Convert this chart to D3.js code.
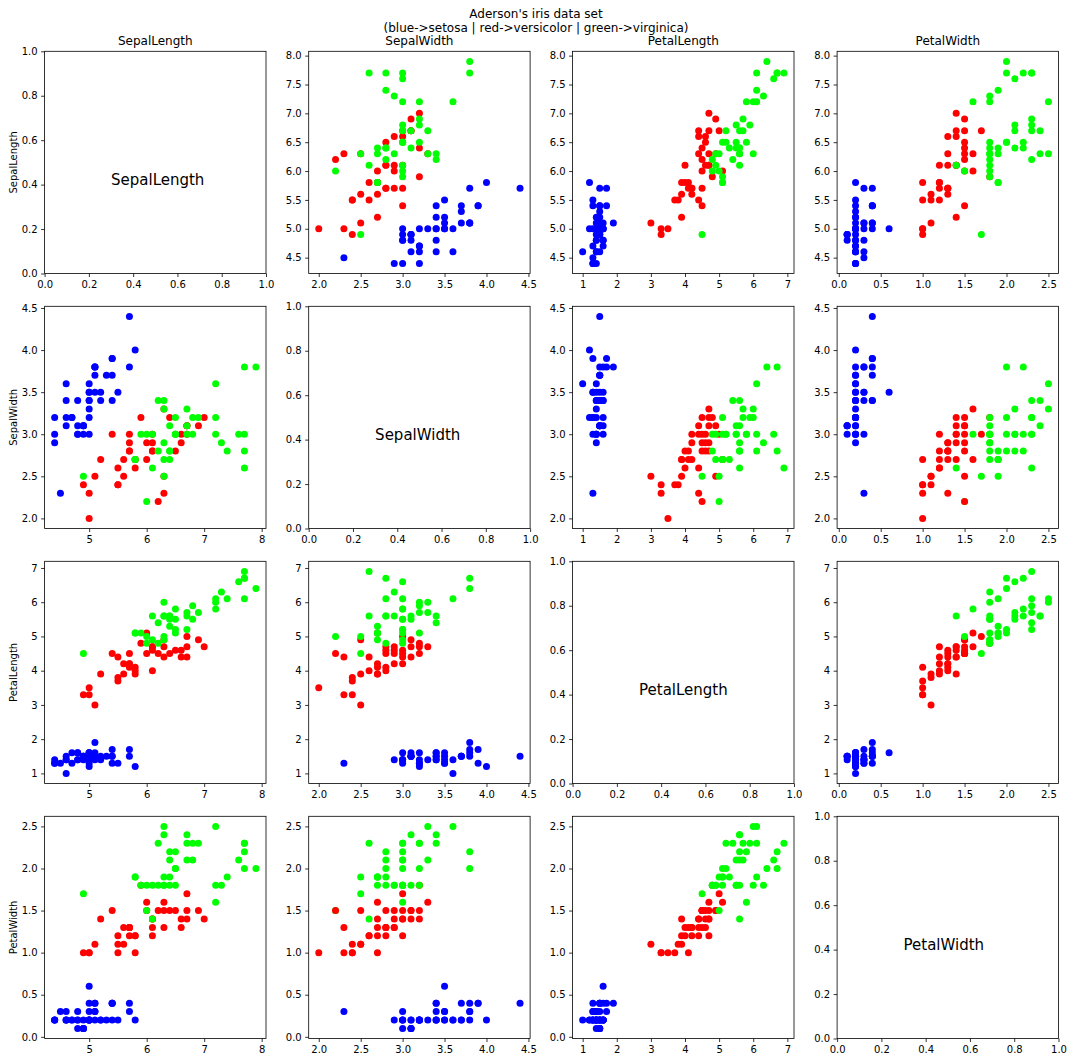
<!DOCTYPE html>
<html><head><meta charset="utf-8">
<script src="https://cdn.jsdelivr.net/npm/d3@7"></script>
<style>
body{margin:0;background:#fff}
text{font-family:"DejaVu Sans",sans-serif}
</style>
</head><body>
<svg id="chart" width="1072" height="1062"></svg>
<script>
// ---------- data ----------
const features = ["SepalLength", "SepalWidth", "PetalLength", "PetalWidth"];
const speciesNames = ["setosa", "versicolor", "virginica"];
const titleLines = ["Aderson's iris data set", "(blue->setosa | red->versicolor | green->virginica)"];

// rows in drawing order (setosa, versicolor, virginica, then one versicolor drawn last)
const sepalLength = [
 4.9,4.7,4.6,5.0,5.4,4.6,5.0,4.4,4.9,5.4,4.8,4.8,5.8,5.7,5.4,5.1,5.7,5.1,5.1,4.6,5.0,5.0,5.2,5.2,4.7,4.8,5.4,4.9,5.0,5.5,4.9,4.4,5.0,4.5,4.4,5.0,5.1,4.8,5.1,4.6,5.3,5.0,
 7.0,6.4,6.9,6.5,5.7,6.3,4.9,6.6,5.2,5.0,6.1,6.7,5.8,5.6,5.9,6.1,6.3,6.1,6.6,6.7,6.0,5.5,5.5,5.8,6.0,5.4,6.7,6.3,5.5,6.1,5.8,5.0,5.6,5.7,5.7,5.1,5.7,
 6.3,5.8,6.3,6.5,7.6,4.9,7.3,7.2,6.5,6.4,6.8,6.5,7.7,7.7,6.0,6.9,7.7,6.3,6.7,7.2,6.2,6.1,6.4,7.2,7.4,7.9,6.4,6.1,7.7,6.3,6.4,6.0,6.7,5.8,6.8,6.7,6.3,6.5,6.2,5.9,
 6.2
];
const sepalWidth = [
 3.0,3.2,3.1,3.6,3.9,3.4,3.4,2.9,3.1,3.7,3.4,3.0,4.0,4.4,3.9,3.5,3.8,3.8,3.7,3.6,3.0,3.4,3.5,3.4,3.2,3.1,3.4,3.1,3.2,3.5,3.1,3.0,3.5,2.3,3.2,3.5,3.8,3.0,3.8,3.2,3.7,3.3,
 3.2,3.2,3.1,2.8,2.8,3.3,2.4,2.9,2.7,2.0,2.9,3.1,2.7,2.5,3.2,2.8,2.5,2.8,3.0,3.0,2.9,2.4,2.4,2.7,2.7,3.0,3.1,2.3,2.6,3.0,2.6,2.3,2.7,3.0,2.9,2.5,2.8,
 3.3,2.7,2.9,3.0,3.0,2.5,2.9,3.6,3.2,2.7,3.0,3.0,3.8,2.6,2.2,3.2,2.8,2.7,3.3,3.2,2.8,3.0,2.8,3.0,2.8,3.8,2.8,2.6,3.0,3.4,3.1,3.0,3.1,2.7,3.2,3.0,2.5,3.0,3.4,3.0,
 2.2
];
const petalLength = [
 1.4,1.3,1.5,1.4,1.7,1.4,1.5,1.4,1.5,1.5,1.6,1.4,1.2,1.5,1.3,1.4,1.7,1.5,1.5,1.0,1.6,1.6,1.5,1.4,1.6,1.6,1.5,1.5,1.2,1.3,1.5,1.3,1.3,1.3,1.3,1.6,1.9,1.4,1.6,1.4,1.5,1.4,
 4.7,4.5,4.9,4.6,4.5,4.7,3.3,4.6,3.9,3.5,4.7,4.4,4.1,3.9,4.8,4.0,4.9,4.7,4.4,5.0,4.5,3.8,3.7,3.9,5.1,4.5,4.7,4.4,4.4,4.6,4.0,3.3,4.2,4.2,4.2,3.0,4.1,
 6.0,5.1,5.6,5.8,6.6,4.5,6.3,6.1,5.1,5.3,5.5,5.5,6.7,6.9,5.0,5.7,6.7,4.9,5.7,6.0,4.8,4.9,5.6,5.8,6.1,6.4,5.6,5.6,6.1,5.6,5.5,4.8,5.6,5.1,5.9,5.2,5.0,5.2,5.4,5.1,
 4.5
];
const petalWidth = [
 0.2,0.2,0.2,0.2,0.4,0.3,0.2,0.2,0.1,0.2,0.2,0.1,0.2,0.4,0.4,0.3,0.3,0.3,0.4,0.2,0.2,0.4,0.2,0.2,0.2,0.2,0.4,0.1,0.2,0.2,0.1,0.2,0.3,0.3,0.2,0.6,0.4,0.3,0.2,0.2,0.2,0.2,
 1.4,1.5,1.5,1.5,1.3,1.6,1.0,1.3,1.4,1.0,1.4,1.4,1.0,1.1,1.8,1.3,1.5,1.2,1.4,1.7,1.5,1.1,1.0,1.2,1.6,1.5,1.5,1.3,1.2,1.4,1.2,1.0,1.3,1.2,1.3,1.1,1.3,
 2.5,1.9,1.8,2.2,2.1,1.7,1.8,2.5,2.0,1.9,2.1,1.8,2.2,2.3,1.5,2.3,2.0,1.8,2.1,1.8,1.8,1.8,2.1,1.6,1.9,2.0,2.2,1.4,2.3,2.4,1.8,1.8,2.4,1.9,2.3,2.3,1.9,2.0,2.3,1.8,
 1.5
];
const species = [].concat(
  Array(42).fill(0), Array(37).fill(1), Array(40).fill(2), [1]
);

// tick labels
const sepalLengthXTicks = [5, 6, 7, 8];
const sepalLengthYTicks = [4.5, 5.0, 5.5, 6.0, 6.5, 7.0, 7.5, 8.0];
const sepalWidthTicks = [2.0, 2.5, 3.0, 3.5, 4.0, 4.5];
const petalLengthTicks = [1, 2, 3, 4, 5, 6, 7];
const petalWidthTicks = [0.0, 0.5, 1.0, 1.5, 2.0, 2.5];
const diagonalTicks = [0.0, 0.2, 0.4, 0.6, 0.8, 1.0];

// ---------- setup ----------
const colorOf = ["#0000ff", "#ff0000", "#00ff00"];
const values = [sepalLength, sepalWidth, petalLength, petalWidth];
const xTickSets = [sepalLengthXTicks, sepalWidthTicks, petalLengthTicks, petalWidthTicks];
const yTickSets = [sepalLengthYTicks, sepalWidthTicks, petalLengthTicks, petalWidthTicks];
const xFormats = [d3.format("d"), d3.format(".1f"), d3.format("d"), d3.format(".1f")];
const yFormats = [d3.format(".1f"), d3.format(".1f"), d3.format("d"), d3.format(".1f")];

const colX = [44.6, 308.7, 572.6, 837.1];
const rowY = [51.3, 306.3, 561.3, 816.3];
const W = 221.4, H = 222.2;

const domains = values.map(v => {
  const e = d3.extent(v); const p = (e[1] - e[0]) * 0.05;
  return [e[0] - p, e[1] + p];
});

const rows = sepalLength.map((_, i) => ({
  v: [sepalLength[i], sepalWidth[i], petalLength[i], petalWidth[i]],
  s: species[i]
}));

const svg = d3.select("#chart");
svg.append("rect").attr("width", 1072).attr("height", 1062).attr("fill", "#fff");

// suptitle
svg.append("text").attr("x", 536).attr("y", 17.5).attr("text-anchor", "middle")
  .attr("font-size", 12).text(titleLines[0]);
svg.append("text").attr("x", 536).attr("y", 31.5).attr("text-anchor", "middle")
  .attr("font-size", 12).text(titleLines[1]);

function styleAxis(g) {
  g.select(".domain").remove();
  g.selectAll(".tick line").attr("stroke", "#000").attr("stroke-width", 0.8);
  g.selectAll(".tick text").attr("font-size", 10).attr("fill", "#000")
    .attr("font-family", "DejaVu Sans, sans-serif");
}

for (let r = 0; r < 4; r++) {
  for (let c = 0; c < 4; c++) {
    const g = svg.append("g").attr("transform", `translate(${colX[c]},${rowY[r]})`);
    const diag = r === c;
    const x = d3.scaleLinear().domain(diag ? [0, 1] : domains[c]).range([0, W]);
    const y = d3.scaleLinear().domain(diag ? [0, 1] : domains[r]).range([H, 0]);
    const xt = diag ? diagonalTicks : xTickSets[c];
    const yt = diag ? diagonalTicks : yTickSets[r];
    const xf = diag ? d3.format(".1f") : xFormats[c];
    const yf = diag ? d3.format(".1f") : yFormats[r];

    g.append("g").attr("transform", `translate(0,${H})`)
      .call(d3.axisBottom(x).tickValues(xt).tickFormat(xf).tickSize(3.5).tickPadding(3.5))
      .call(styleAxis);
    g.append("g")
      .call(d3.axisLeft(y).tickValues(yt).tickFormat(yf).tickSize(3.5).tickPadding(3.5))
      .call(styleAxis);

    if (diag) {
      g.append("text").attr("x", x(0.3)).attr("y", y(0.4))
        .attr("font-size", 15).text(features[r]);
    } else {
      const clipId = `clip-${r}-${c}`;
      g.append("clipPath").attr("id", clipId).append("rect").attr("width", W).attr("height", H);
      g.append("g").attr("clip-path", `url(#${clipId})`)
        .selectAll("circle").data(rows).join("circle")
        .attr("cx", d => x(d.v[c])).attr("cy", d => y(d.v[r]))
        .attr("r", 3.5).attr("fill", d => colorOf[d.s]);
    }

    g.append("rect").attr("width", W).attr("height", H)
      .attr("fill", "none").attr("stroke", "#000").attr("stroke-width", 0.8);

    if (r === 0) {
      g.append("text").attr("x", W / 2).attr("y", -6.5).attr("text-anchor", "middle")
        .attr("font-size", 12).text(features[c]);
    }
    if (c === 0) {
      g.append("text").attr("transform", `translate(-27.5,${H / 2}) rotate(-90)`)
        .attr("text-anchor", "middle").attr("font-size", 10).text(features[r]);
    }
  }
}
</script>
</body></html>
